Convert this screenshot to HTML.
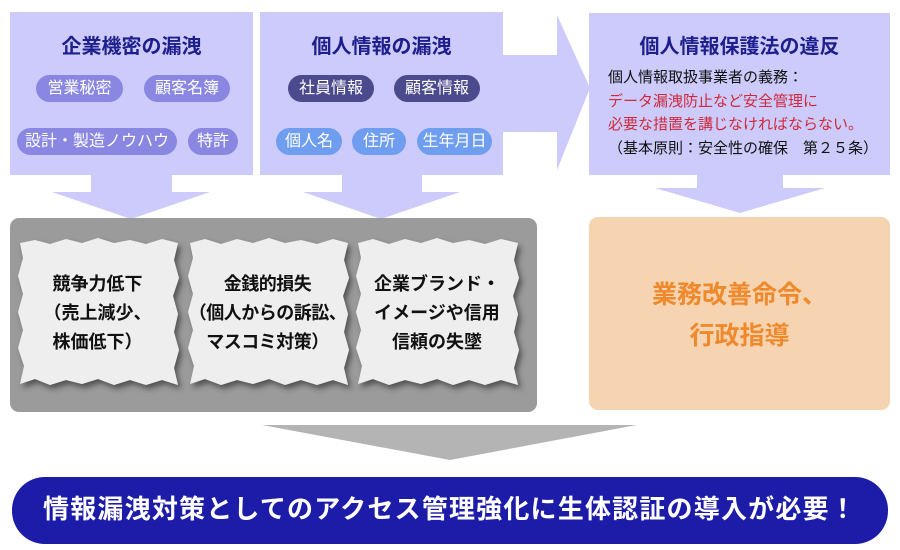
<!DOCTYPE html>
<html><head><meta charset="utf-8"><style>
body{margin:0;width:900px;height:550px;background:#fff;overflow:hidden;font-family:"Liberation Sans","Noto Sans CJK JP",sans-serif;position:relative}
.a{position:absolute}
.t{position:absolute;text-align:center;font-weight:bold;color:#1e1e8c;font-size:20px}
.p{position:absolute;height:27px;line-height:27px;border-radius:14px;color:#fff;font-size:16px;text-align:center}
.l{background:#8a87e2}.d{background:#4b4a8c}.b{background:#6f9ef0}
.ps{position:absolute;text-align:center;font-weight:bold;font-size:18px;line-height:29px;color:#111;white-space:nowrap}
</style></head><body>
<svg class="a" style="left:0;top:0" width="900" height="550">
<defs><filter id="sh" x="-10%" y="-10%" width="130%" height="130%"><feDropShadow dx="3" dy="4" stdDeviation="3" flood-color="#333" flood-opacity="0.7"/></filter></defs>
<g fill="#cccbfb">
<rect x="10" y="12" width="243" height="163"/>
<polygon points="91,175 172,175 172,192 210,192 131,219 52,192 91,192"/>
<rect x="260" y="12" width="243" height="163"/>
<polygon points="342,175 422,175 422,192 460,192 381,219 303,192 342,192"/>
<polygon points="503,55 557,55 557,15 590,88 557,170 557,132 503,132"/>
<rect x="589" y="13" width="301" height="162"/>
<polygon points="697,175 783,175 783,188 825,188 740,213 655,188 697,188"/>
</g>
<rect x="10" y="218" width="527" height="194" rx="9" fill="#9b9b9b"/>
<rect x="589" y="217" width="301" height="193" rx="9" fill="#f6d3b1"/>
<polygon points="262,425 637,425 450,460" fill="#b4b4b4"/>
<rect x="12" y="477" width="876" height="67" rx="33" fill="#1c1ca8"/>
<g fill="#eeeeee" filter="url(#sh)">
<polygon points="20,243 35,240 50,244 66,239 82,243 98,238 114,243 130,240 146,244 162,239 178,243 174,260 179,278 173,296 178,314 174,332 179,350 174,368 178,385 162,380 146,385 130,380 114,385 98,379 82,384 66,380 50,385 35,379 20,384 24,366 18,348 23,330 18,312 23,294 18,276 23,258"/>
<polygon points="190,243 205,239 221,244 237,239 253,243 269,238 285,243 301,240 317,244 333,239 348,243 344,260 349,278 343,296 348,314 344,332 349,350 344,368 348,385 333,380 317,385 301,380 285,385 269,379 253,384 237,380 221,385 205,379 190,384 194,366 188,348 193,330 188,312 193,294 188,276 193,258"/>
<polygon points="358,243 373,239 389,244 405,239 421,243 437,238 453,243 469,240 485,244 501,239 518,243 514,260 519,278 513,296 518,314 514,332 519,350 514,368 518,385 501,380 485,385 469,380 453,385 437,379 421,384 405,380 389,385 373,379 358,384 362,366 356,348 361,330 356,312 361,294 356,276 361,258"/>
</g>
</svg>
<div class="t" style="left:10px;width:243px;top:30px">企業機密の漏洩</div>
<div class="t" style="left:260px;width:243px;top:30px">個人情報の漏洩</div>
<div class="t" style="left:589px;width:301px;top:30px">個人情報保護法の違反</div>
<div class="p l" style="left:36px;width:87px;top:75px">営業秘密</div>
<div class="p l" style="left:144px;width:86px;top:75px">顧客名簿</div>
<div class="p l" style="left:17px;width:160px;top:128px">設計・製造ノウハウ</div>
<div class="p l" style="left:188px;width:50px;top:128px">特許</div>
<div class="p d" style="left:288px;width:86px;top:75px">社員情報</div>
<div class="p d" style="left:394px;width:86px;top:75px">顧客情報</div>
<div class="p b" style="left:276px;width:66px;top:128px">個人名</div>
<div class="p b" style="left:352px;width:54px;top:128px">住所</div>
<div class="p b" style="left:417px;width:75px;top:128px">生年月日</div>
<div class="a" style="left:608px;top:66px;font-size:15px;line-height:23.5px;color:#111;white-space:nowrap">個人情報取扱事業者の義務：<br><span style="color:#d0283a">データ漏洩防止など安全管理に<br>必要な措置を講じなければならない。</span><br>（基本原則：安全性の確保　第２５条）</div>
<div class="ps" style="left:17px;width:161px;top:270px">競争力低下<br>（売上減少、<br>株価低下）</div>
<div class="ps" style="left:177px;width:181px;top:270px;letter-spacing:-0.5px">金銭的損失<br>（個人からの訴訟、<br>マスコミ対策）</div>
<div class="ps" style="left:356px;width:162px;top:270px">企業ブランド・<br>イメージや信用<br>信頼の失墜</div>
<div class="a" style="left:589px;width:301px;top:275px;text-align:center;font-weight:bold;font-size:25px;line-height:41px;color:#ef8a2c">業務改善命令、<br>行政指導</div>
<div class="a" style="left:12px;width:876px;top:492px;text-align:center;font-weight:bold;font-size:26px;letter-spacing:1.2px;color:#fff;line-height:34px;white-space:nowrap">情報漏洩対策としてのアクセス管理強化に生体認証の導入が必要！</div>
</body></html>
